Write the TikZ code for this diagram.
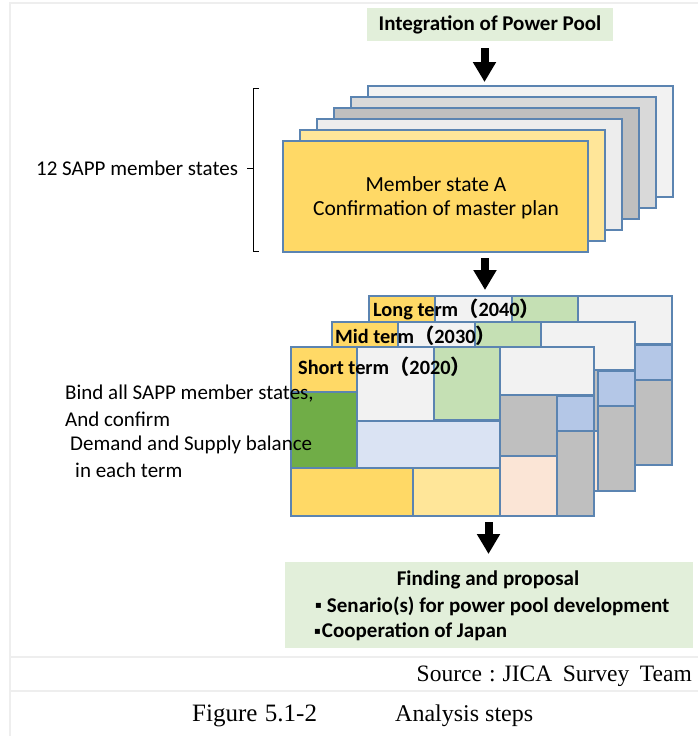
\documentclass[tikz,border=0pt]{standalone}
\usepackage{fontspec}
\setmainfont{Carlito}
\newfontfamily\serifff{Liberation Serif}
\newfontfamily\cjkf{Noto Sans CJK JP}
\newfontfamily\djv{DejaVu Sans}
\usetikzlibrary{arrows.meta}
\definecolor{bd}{HTML}{5B84B1}
\definecolor{framegray}{HTML}{EEEEEE}
\definecolor{cGold}{HTML}{FFD966}
\definecolor{cLYel}{HTML}{FFE699}
\definecolor{cG1}{HTML}{EDEDED}
\definecolor{cG2}{HTML}{BFBFBF}
\definecolor{cG3}{HTML}{D9D9D9}
\definecolor{cG4}{HTML}{F2F2F2}
\definecolor{cDGreen}{HTML}{70AD47}
\definecolor{cLGreen}{HTML}{C5E0B4}
\definecolor{cBlueGray}{HTML}{DAE3F3}
\definecolor{cBlue}{HTML}{B4C7E7}
\definecolor{cPink}{HTML}{FBE5D6}
\definecolor{cPale}{HTML}{E2EFDA}
\tikzset{
  cell/.style={draw=bd, line width=1.2pt, inner sep=0pt, outer sep=0pt, anchor=north west},
  card/.style={cell, line width=1.4pt, minimum width=305pt, minimum height=111pt},
  blockarrow/.style={line width=8pt, -{Triangle[width=22pt,length=20pt]}},
  frameline/.style={draw=framegray, line width=2pt},
  txt/.style={inner sep=0pt, font=\fontsize{21}{25}\selectfont},
  btxt/.style={inner sep=0pt, font=\fontsize{21}{25}\selectfont\bfseries},
  lbltxt/.style={inner sep=0pt, anchor=west, font=\fontsize{20.3}{23}\selectfont\bfseries},
  palebox/.style={fill=cPale, inner sep=0pt, outer sep=0pt},
}
\newcommand\termlayer[2]{%
  \begin{scope}[shift={#2}]
    \node[cell, fill=cGold, minimum width=66pt, minimum height=45pt] (#1lab) at (0,0) {};
    \node[cell, fill=cDGreen, minimum width=66pt, minimum height=76pt] (#1dg) at (0,45) {};
    \node[cell, fill=cG4, minimum width=77pt, minimum height=74pt] (#1ga) at (66,0) {};
    \node[cell, fill=cLGreen, minimum width=66pt, minimum height=73pt] (#1lg) at (143,0) {};
    \node[cell, fill=cG4, minimum width=94pt, minimum height=48pt] (#1gb) at (209,0) {};
    \node[cell, fill=cBlueGray, minimum width=143pt, minimum height=47pt] (#1bg) at (66,74) {};
    \node[cell, fill=cG2, minimum width=57pt, minimum height=61pt] (#1gc) at (209,48) {};
    \node[cell, fill=cBlue, minimum width=37pt, minimum height=35pt] (#1bl) at (266,49) {};
    \node[cell, fill=cG2, minimum width=37pt, minimum height=85pt] (#1gd) at (266,84) {};
    \node[cell, fill=cPink, minimum width=57pt, minimum height=60pt] (#1pk) at (209,109) {};
    \node[cell, fill=cGold, minimum width=122pt, minimum height=48pt] (#1yb) at (0,121) {};
    \node[cell, fill=cLYel, minimum width=87pt, minimum height=48pt] (#1ly) at (122,121) {};
  \end{scope}}
\newcommand\sqbullet{\raisebox{3.5pt}{\djv\fontsize{10}{12}\selectfont ▪}}
\begin{document}
\begin{tikzpicture}[x=1pt,y=-1pt]
\useasboundingbox (0,0) rectangle (698,736);
\fill[white] (0,0) rectangle (698,736);
% frame
\draw[frameline] (10,736) -- (10,3) -- (698,3);
\draw[frameline] (10,657) -- (698,657);
\draw[frameline] (10,691) -- (698,691);

% top box
\node[palebox, minimum width=246pt, minimum height=33pt] (integ) at (490,24.5) {};
\node[btxt] (integt) at (integ.center) {Integration of Power Pool};

% arrow 1
\coordinate (a1s) at (484.5,48);
\coordinate (a1e) at (484.5,82);
\draw[blockarrow] (a1s) -- (a1e);

% stacked cards
\node[card, fill=cG4] (card6) at (368,86) {};
\node[card, fill=cG3] (card5) at (351,97) {};
\node[card, fill=cG2] (card4) at (334,108) {};
\node[card, fill=cG1] (card3) at (317,119) {};
\node[card, fill=cLYel] (card2) at (300,130) {};
\node[card, fill=cGold] (card1) at (283,141) {};
\node[txt, font=\fontsize{21.5}{25}\selectfont] (m1) at (436,184) {Member state A};
\node[txt, font=\fontsize{21.5}{25}\selectfont] (m2) at (436,210) {Confirmation of master plan};

% bracket
\draw[line width=0.8pt] (259,88) -- (253,88) -- (253,251) -- (259,251);
\draw[line width=0.8pt] (247,168) -- (253,168);
\node[txt, anchor=west] (sapp) at (36,168) {12 SAPP member states};

% arrow 2
\coordinate (a2s) at (485,258);
\coordinate (a2e) at (485,290);
\draw[blockarrow] (a2s) -- (a2e);

% term layers
\termlayer{lt}{(369,296)}
\node[lbltxt] (ltt) at (373,309) {Long term{\cjkf （}2040{\cjkf ）}};
\termlayer{mt}{(332,322)}
\node[lbltxt] (mtt) at (335,336) {Mid term{\cjkf （}2030{\cjkf ）}};
\termlayer{st}{(291,347)}
\node[lbltxt] (stt) at (298,367) {Short term{\cjkf （}2020{\cjkf ）}};

% left text
\node[txt, anchor=west] (b1) at (65,394) {Bind all SAPP member states,};
\node[txt, anchor=west] (b2) at (65,419) {And confirm};
\node[txt, anchor=west] (b3) at (70,445) {Demand and Supply balance};
\node[txt, anchor=west] (b4) at (75,470) {in each term};

% arrow 3
\coordinate (a3s) at (488.5,522);
\coordinate (a3e) at (488.5,554);
\draw[blockarrow] (a3s) -- (a3e);

% finding box
\node[palebox, minimum width=408pt, minimum height=86pt] (find) at (489,605) {};
\node[btxt] (f1) at (488,580) {Finding and proposal};
\node[btxt, anchor=west] (f2) at (315,606) {\sqbullet\hspace{5pt}Senario(s) for power pool development};
\node[btxt, anchor=west] (f3) at (314,632) {\sqbullet\hspace{1pt}Cooperation of Japan};

% source and caption
\node[inner sep=0pt, anchor=east, font=\serifff\fontsize{23.5}{26}\selectfont] (src) at (692,676) {Source\hspace{0.3em}:\hspace{0.3em}JICA\hspace{0.45em}Survey\hspace{0.45em}Team};
\node[inner sep=0pt, anchor=west, font=\serifff\fontsize{25}{28}\selectfont] (cap1) at (192,716) {Figure\hspace{0.3em}5.1-2};
\node[inner sep=0pt, anchor=west, font=\serifff\fontsize{24}{28}\selectfont] (cap2) at (395,716) {Analysis steps};
\end{tikzpicture}
\end{document}
